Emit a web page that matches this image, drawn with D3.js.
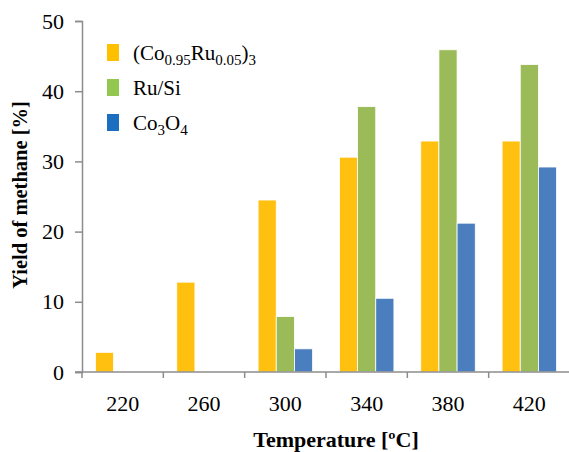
<!DOCTYPE html>
<html>
<head>
<meta charset="utf-8">
<script src="https://cdn.jsdelivr.net/npm/d3@7"></script>
<style>
  body { margin: 0; background: #fff; }
</style>
</head>
<body>
<div id="chart"></div>
<script>
const temperatures = ['220', '260', '300', '340', '380', '420'];
const seriesNames = ['CoRu', 'RuSi', 'Co3O4'];
const coRuValues = [2.8, 12.8, 24.5, 30.6, 32.9, 32.9];
const ruSiValues = [null, null, 7.9, 37.8, 45.9, 43.8];
const co3o4Values = [null, null, 3.3, 10.5, 21.2, 29.2];
const yTicks = [0, 10, 20, 30, 40, 50];

const barColors = ['#FFC010', '#9BBB59', '#4A7EBE'];
const legendColors = ['#FFC000', '#92C850', '#1C6FC0'];
const serif = 'Liberation Serif';

const width = 569, height = 452;
const margin = { top: 21, right: 0, bottom: 80, left: 82 };

const svg = d3.select('#chart').append('svg')
    .attr('width', width)
    .attr('height', height);

const x0 = d3.scaleBand()
    .domain(temperatures)
    .range([margin.left, 570]);

const x1 = d3.scaleBand()
    .domain(seriesNames)
    .range([x0.bandwidth() * 0.165, x0.bandwidth() * 0.835]);

const y = d3.scaleLinear()
    .domain([0, 50])
    .range([height - margin.bottom, margin.top]);

const rows = temperatures.map((t, i) => ({
    key: t,
    values: [coRuValues[i], ruSiValues[i], co3o4Values[i]]
}));

// bars
const groups = svg.append('g').selectAll('g')
    .data(rows)
    .enter().append('g')
    .attr('transform', d => 'translate(' + x0(d.key) + ',0)');

groups.selectAll('rect')
    .data(d => d.values.map((v, j) => ({ name: seriesNames[j], value: v, idx: j })).filter(e => e.value != null))
    .enter().append('rect')
    .attr('x', d => x1(d.name))
    .attr('width', x1.bandwidth())
    .attr('y', d => y(d.value))
    .attr('height', d => y(0) - y(d.value))
    .attr('fill', d => barColors[d.idx])
    .attr('stroke', '#fff')
    .attr('stroke-width', 0.8);

// y axis
const axisColor = '#8c8c8c';
const yAxisG = svg.append('g')
    .attr('transform', 'translate(' + margin.left + ',0)')
    .call(d3.axisLeft(y).tickValues(yTicks).tickSize(7).tickPadding(11));
yAxisG.attr('font-family', serif).attr('font-size', 22);
yAxisG.select('.domain').attr('stroke', axisColor).attr('stroke-width', 1.5);
yAxisG.selectAll('.tick line').attr('stroke', axisColor).attr('stroke-width', 1.5);
yAxisG.selectAll('.tick text').attr('fill', '#000');

// x axis: ticks at category boundaries
const xAxisG = svg.append('g')
    .attr('transform', 'translate(0,' + y(0) + ')');
xAxisG.append('line')
    .attr('x1', margin.left - 7).attr('x2', width)
    .attr('stroke', axisColor).attr('stroke-width', 1.5);
xAxisG.selectAll('.tk')
    .data(temperatures)
    .enter().append('line')
    .attr('x1', d => x0(d)).attr('x2', d => x0(d))
    .attr('y1', 0).attr('y2', 6)
    .attr('stroke', axisColor).attr('stroke-width', 1.5);
xAxisG.selectAll('.lbl')
    .data(temperatures)
    .enter().append('text')
    .attr('x', d => x0(d) + x0.bandwidth() / 2)
    .attr('y', 39)
    .attr('text-anchor', 'middle')
    .attr('font-family', serif)
    .attr('font-size', 22)
    .text(d => d);

// axis titles
svg.append('text')
    .attr('transform', 'translate(27,' + 195 + ') rotate(-90)')
    .attr('text-anchor', 'middle')
    .attr('font-family', serif)
    .attr('font-size', 20.5)
    .attr('font-weight', 'bold')
    .text('Yield of methane [%]');

svg.append('text')
    .attr('x', 336)
    .attr('y', 447)
    .attr('text-anchor', 'middle')
    .attr('font-family', serif)
    .attr('font-size', 22)
    .attr('font-weight', 'bold')
    .text('Temperature [ºC]');

// legend
const legendParts = [
    [['(Co', 0], ['0.95', 1], ['Ru', 0], ['0.05', 1], [')', 0], ['3', 1]],
    [['Ru/Si', 0]],
    [['Co', 0], ['3', 1], ['O', 0], ['4', 1]]
];
const legend = svg.append('g');
legendParts.forEach((parts, i) => {
    const ly = 44 + i * 35;
    legend.append('rect')
        .attr('x', 107).attr('y', ly)
        .attr('width', 12).attr('height', 17)
        .attr('fill', legendColors[i]);
    const t = legend.append('text')
        .attr('x', 133).attr('y', ly + 16)
        .attr('font-family', serif)
        .attr('font-size', 21);
    parts.forEach((p, k) => {
        const prevSub = k > 0 && parts[k - 1][1];
        const span = t.append('tspan').text(p[0]);
        if (p[1]) span.attr('font-size', 15);
        span.attr('dy', p[1] && !prevSub ? 5 : (!p[1] && prevSub ? -5 : 0));
    });
});
</script>
</body>
</html>
